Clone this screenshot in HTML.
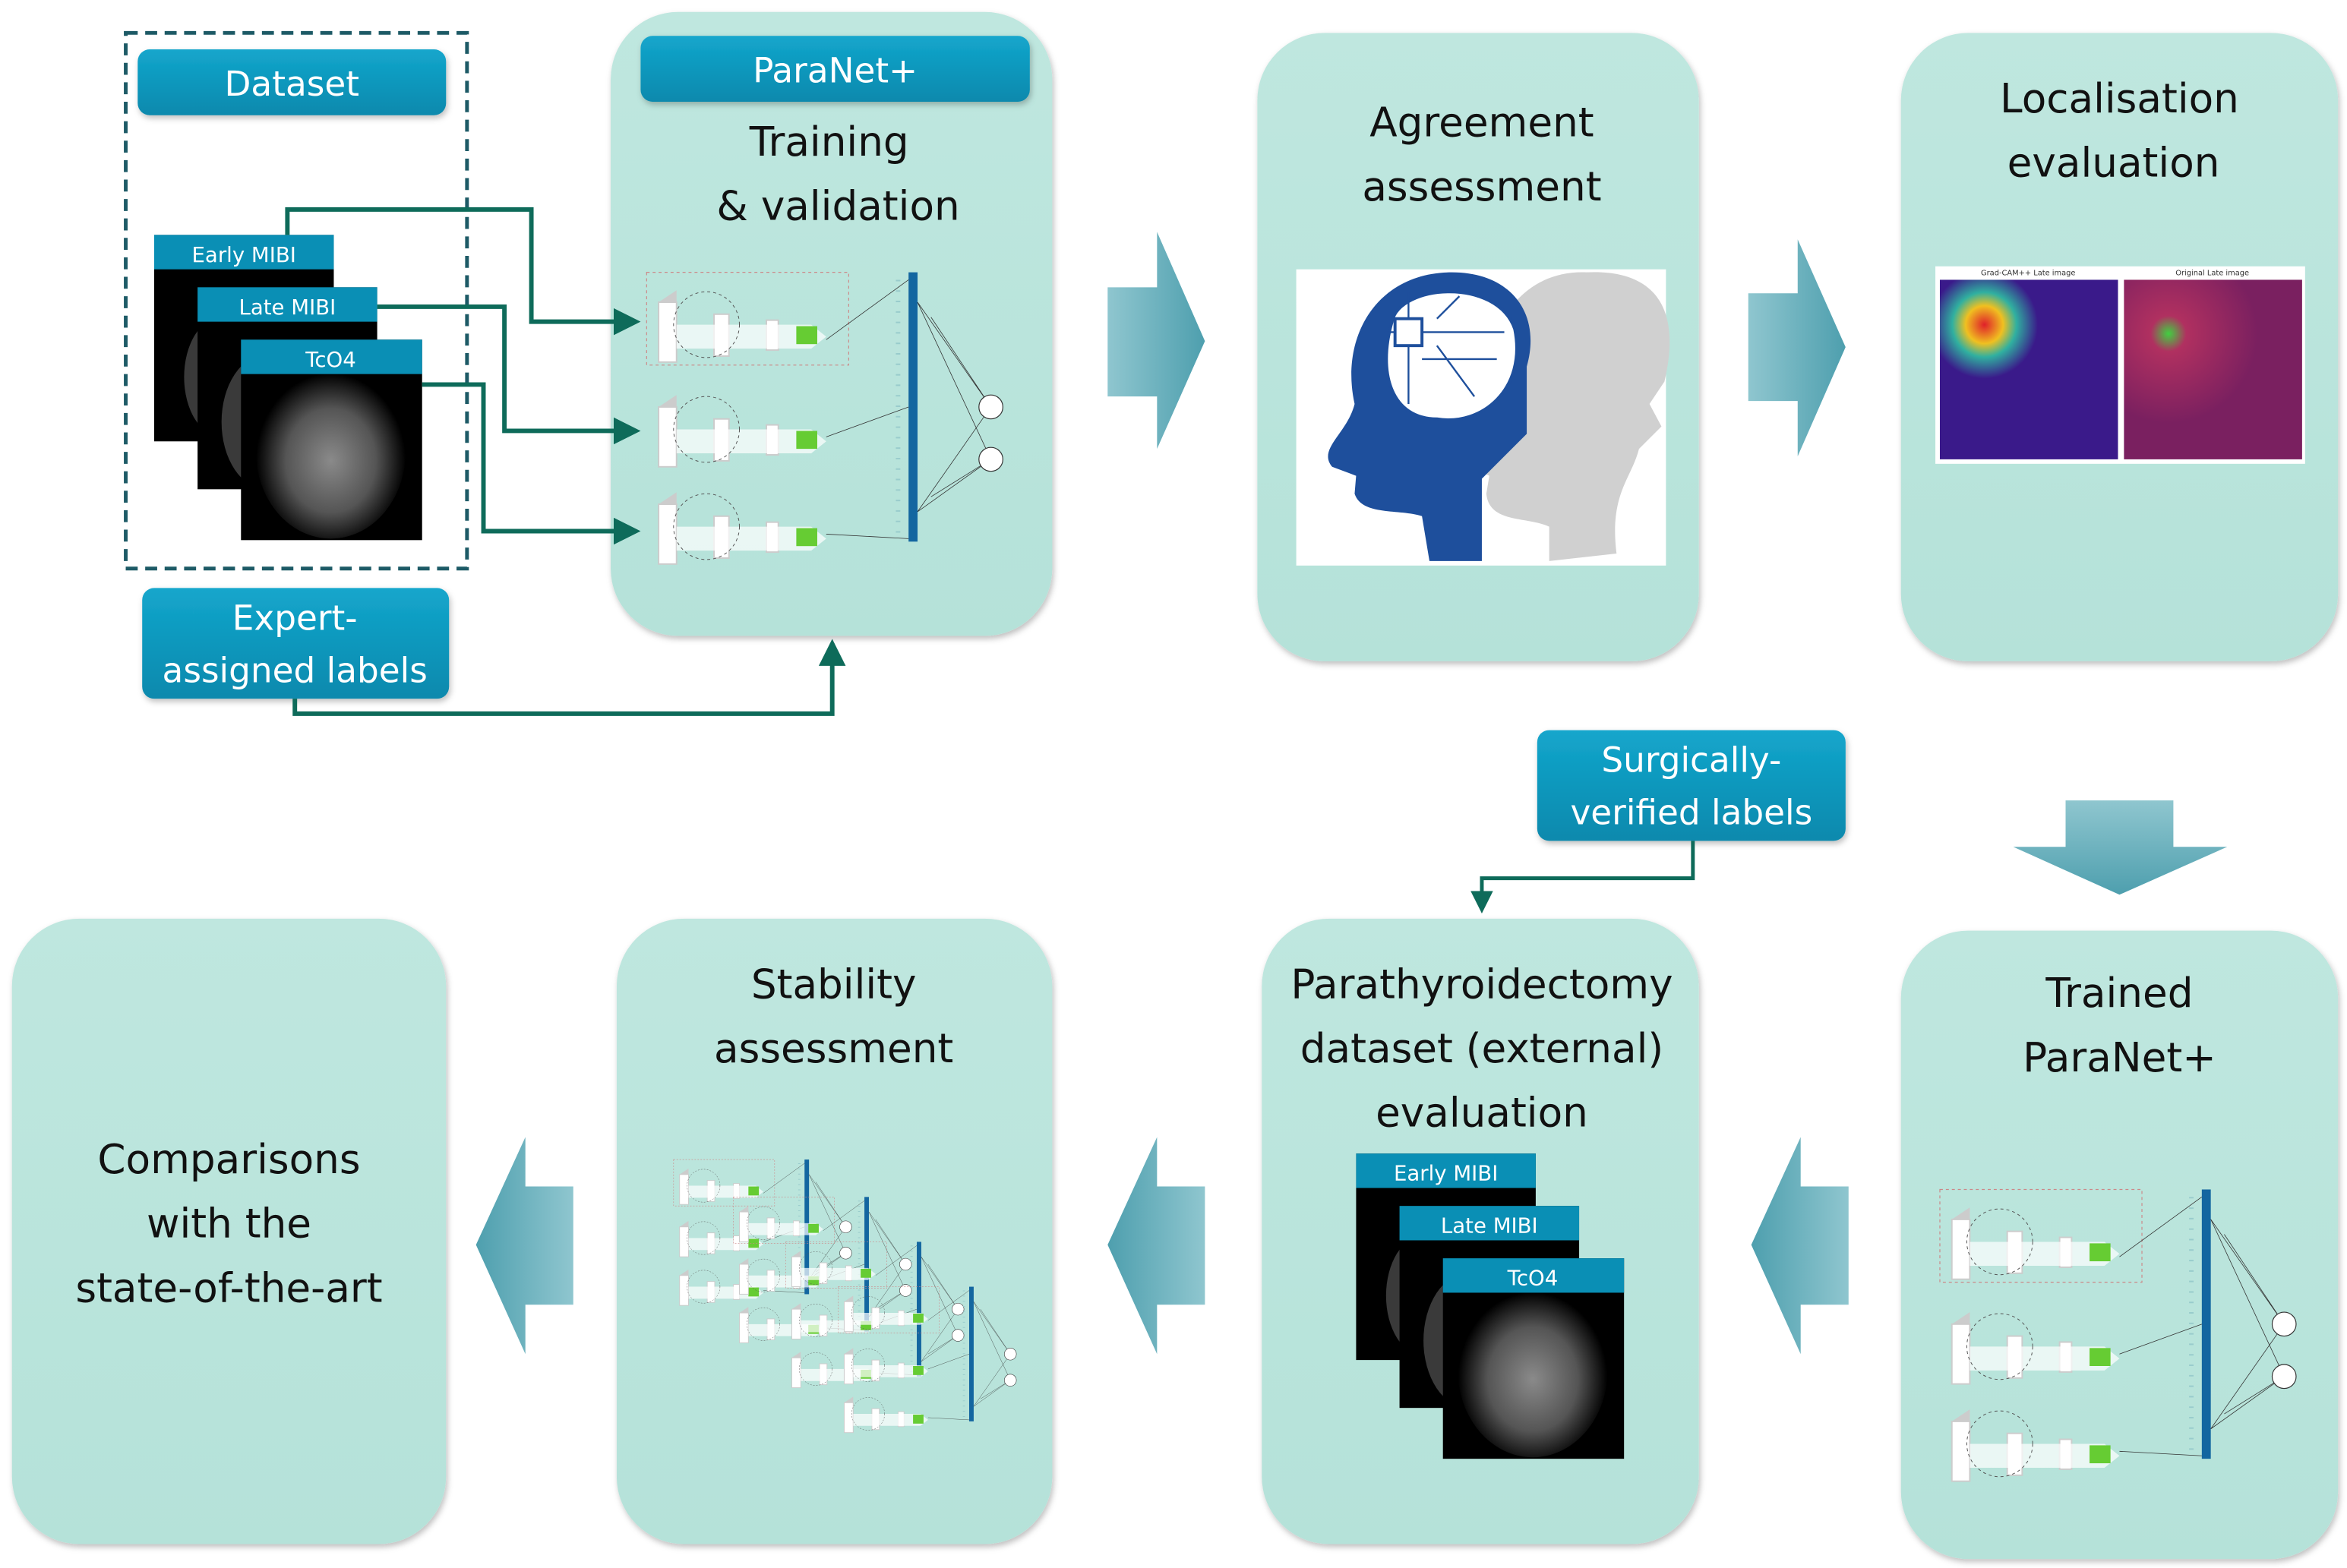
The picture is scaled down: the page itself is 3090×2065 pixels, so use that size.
<!DOCTYPE html>
<html><head><meta charset="utf-8"><style>
html,body{margin:0;padding:0;background:#fff}
svg{display:block}
text{font-family:"DejaVu Sans","Liberation Sans",sans-serif}
</style></head><body>
<svg width="3090" height="2065" viewBox="0 0 1568 1048" preserveAspectRatio="none" xmlns="http://www.w3.org/2000/svg">
<defs>
<linearGradient id="pill" x1="0" y1="0" x2="0" y2="1"><stop offset="0" stop-color="#14a6cc"/><stop offset="1" stop-color="#0789ad"/></linearGradient>
<linearGradient id="box" x1="0" y1="0" x2="0" y2="1"><stop offset="0" stop-color="#bfe7df"/><stop offset="1" stop-color="#b5e2d9"/></linearGradient>
<linearGradient id="arH" x1="0" y1="0" x2="1" y2="0"><stop offset="0" stop-color="#8fc6cf"/><stop offset="1" stop-color="#4e9fae"/></linearGradient>
<linearGradient id="arL" x1="1" y1="0" x2="0" y2="0"><stop offset="0" stop-color="#8fc6cf"/><stop offset="1" stop-color="#4e9fae"/></linearGradient>
<linearGradient id="arD" x1="0" y1="0" x2="0" y2="1"><stop offset="0" stop-color="#8fc6cf"/><stop offset="1" stop-color="#4e9fae"/></linearGradient>
<radialGradient id="scan" cx="0.5" cy="0.55" r="0.5"><stop offset="0" stop-color="#8a8a8a"/><stop offset="0.6" stop-color="#555"/><stop offset="1" stop-color="#000"/></radialGradient>
<radialGradient id="hot1" cx="0.25" cy="0.25" r="0.3"><stop offset="0" stop-color="#e0202a"/><stop offset="0.35" stop-color="#f0c020"/><stop offset="0.6" stop-color="#30b0a0"/><stop offset="1" stop-color="#3a1a8a"/></radialGradient>
<radialGradient id="hot2" cx="0.25" cy="0.3" r="0.5"><stop offset="0" stop-color="#40d040"/><stop offset="0.2" stop-color="#b03060"/><stop offset="1" stop-color="#7a2060"/></radialGradient>
<filter id="sh" x="-10%" y="-10%" width="120%" height="120%"><feDropShadow dx="1" dy="2" stdDeviation="2" flood-color="#000" flood-opacity="0.25"/></filter>
<marker id="ah" markerWidth="6" markerHeight="6" refX="5" refY="3" orient="auto" markerUnits="strokeWidth"><path d="M0,0 L6,3 L0,6 z" fill="#0e6b5a"/></marker>
<g id="net">
 <rect x="0" y="0" width="135" height="62" fill="none" stroke="#c88" stroke-dasharray="2,2" stroke-width="0.6"/>
 <g id="row"><path d="M8,20 l12,-8 v40 l-12,8z" fill="#ccc"/><rect x="8" y="20" width="12" height="40" fill="#fff" stroke="#ccc"/><rect x="45" y="28" width="10" height="28" fill="#fff" stroke="#ccc"/><rect x="80" y="32" width="8" height="20" fill="#fff" stroke="#ccc"/><path d="M20,35 H110 l10,8 l-10,8 H20z" fill="#fff" opacity="0.7"/><rect x="100" y="36" width="14" height="12" fill="#6c3"/><circle cx="40" cy="35" r="22" fill="none" stroke="#555" stroke-width="0.5" stroke-dasharray="2,2"/></g>
 <use href="#row" y="70"/><use href="#row" y="135"/>
 <rect x="175" y="0" width="6" height="180" fill="#1366a0"/>
 <path d="M168,5 V178" stroke="#9cc" stroke-width="3" stroke-dasharray="1,6"/>
 <path d="M120,45 L175,5 M120,110 L175,90 M120,175 L175,178 M181,20 L230,90 M181,160 L230,90 M181,20 L230,125 M181,160 L230,125 M190,30 L230,90 M190,150 L230,125" stroke="#333" stroke-width="0.4"/>
 <circle cx="230" cy="90" r="8" fill="#fff" stroke="#333" stroke-width="0.6"/><circle cx="230" cy="125" r="8" fill="#fff" stroke="#333" stroke-width="0.6"/>
</g>
<g id="stack">
 <rect x="0" y="0" width="120" height="138" fill="#000"/><ellipse cx="45" cy="95" rx="25" ry="40" fill="#3a3a3a"/><rect x="0" y="0" width="120" height="23" fill="#0a8fb5"/>
 <text x="60" y="18" font-size="14" fill="#fff" text-anchor="middle">Early MIBI</text>
 <rect x="29" y="35" width="120" height="135" fill="#000"/><ellipse cx="75" cy="125" rx="30" ry="45" fill="#3a3a3a"/><rect x="29" y="35" width="120" height="23" fill="#0a8fb5"/>
 <text x="89" y="53" font-size="14" fill="#fff" text-anchor="middle">Late MIBI</text>
 <rect x="58" y="70" width="121" height="134" fill="#000"/><ellipse cx="118" cy="145" rx="50" ry="58" fill="url(#scan)"/><rect x="58" y="70" width="121" height="23" fill="#0a8fb5"/>
 <text x="118" y="88" font-size="14" fill="#fff" text-anchor="middle">TcO4</text>
</g>
</defs>

<g filter="url(#sh)" fill="url(#box)">
<rect x="408" y="8" width="295" height="417" rx="45"/>
<rect x="840" y="22" width="295" height="420" rx="45"/>
<rect x="1270" y="22" width="292" height="420" rx="45"/>
<rect x="1270" y="622" width="292" height="420" rx="45"/>
<rect x="843" y="614" width="292" height="418" rx="45"/>
<rect x="412" y="614" width="291" height="418" rx="45"/>
<rect x="8" y="614" width="290" height="418" rx="45"/>
</g>

<rect x="84" y="22" width="228" height="358" fill="none" stroke="#1d5a66" stroke-width="2.5" stroke-dasharray="8,5"/>
<g filter="url(#sh)">
<rect x="92" y="33" width="206" height="44" rx="8" fill="url(#pill)"/>
<rect x="95" y="393" width="205" height="74" rx="8" fill="url(#pill)"/>
<rect x="428" y="24" width="260" height="44" rx="8" fill="url(#pill)"/>
<rect x="1027" y="488" width="206" height="74" rx="8" fill="url(#pill)"/>
</g>
<g fill="#fff" font-size="23" text-anchor="middle">
<text x="195" y="64">Dataset</text>
<text x="197" y="421">Expert-</text><text x="197" y="456">assigned labels</text>
<text x="558" y="55">ParaNet+</text>
<text x="1130" y="516">Surgically-</text><text x="1130" y="551">verified labels</text>
</g>
<use href="#stack" x="103" y="157"/>

<g font-size="27" fill="#111" text-anchor="middle">
<text x="554" y="104">Training</text><text x="560" y="147">&amp; validation</text>
<text x="990" y="91">Agreement</text><text x="990" y="134">assessment</text>
<text x="1416" y="75">Localisation</text><text x="1412" y="118">evaluation</text>
<text x="1416" y="673">Trained</text><text x="1416" y="716">ParaNet+</text>
<text x="990" y="667">Parathyroidectomy</text><text x="990" y="710">dataset (external)</text><text x="990" y="753">evaluation</text>
<text x="557" y="667">Stability</text><text x="557" y="710">assessment</text>
<text x="153" y="784">Comparisons</text><text x="153" y="827">with the</text><text x="153" y="870">state-of-the-art</text>
</g>

<use href="#net" x="432" y="182"/>
<use href="#net" x="1296" y="795"/>
<g transform="translate(450,775) scale(0.5)"><use href="#net"/></g>
<g transform="translate(490,800) scale(0.5)"><use href="#net"/></g>
<g transform="translate(525,830) scale(0.5)"><use href="#net"/></g>
<g transform="translate(560,860) scale(0.5)"><use href="#net"/></g>

<use href="#stack" x="906" y="771"/>

<rect x="866" y="180" width="247" height="198" fill="#fff"/>
<path d="M990,370 C985,330 1000,320 1005,300 L1020,285 L1012,270 L1022,255 C1035,200 1010,180 970,182 C920,180 898,230 905,270 C900,290 880,300 890,310 L905,318 L903,330 C905,350 930,345 945,352 L945,375 Z" fill="#d0d0d0" transform="translate(90,0)"/>
<path d="M955,375 L950,345 C935,340 910,345 905,330 L906,318 L890,312 C880,300 900,290 905,270 C895,225 920,182 970,182 C1010,182 1030,210 1020,245 L1020,290 L990,320 L990,375 Z" fill="#1e4f9c"/>
<path d="M930,215 C935,190 1000,185 1012,220 C1020,260 990,285 960,280 C930,280 920,250 930,215Z" fill="#fff" stroke="#1e4f9c" stroke-width="2"/>
<g stroke="#1e4f9c" stroke-width="1.2" fill="none"><path d="M941,213 V195 M950,222 H1005 M941,231 V270 M932,222 H925 M960,213 L975,198 M960,231 L985,265 M950,240 H1000"/></g>
<rect x="932" y="213" width="18" height="18" fill="#fff" stroke="#1e4f9c" stroke-width="2"/>

<rect x="1293" y="178" width="247" height="132" fill="#fff"/>
<rect x="1296" y="187" width="119" height="120" fill="url(#hot1)"/>
<rect x="1419" y="187" width="119" height="120" fill="url(#hot2)"/>
<text x="1355" y="184" font-size="5" text-anchor="middle" fill="#333">Grad-CAM++ Late image</text>
<text x="1478" y="184" font-size="5" text-anchor="middle" fill="#333">Original Late image</text>

<g fill="none" stroke="#0e6b5a" stroke-width="3">
<path d="M192,157 V140 H355 V215 H425" marker-end="url(#ah)"/>
<path d="M252,205 H337 V288 H425" marker-end="url(#ah)"/>
<path d="M282,257 H323 V355 H425" marker-end="url(#ah)"/>
<path d="M197,467 V477 H556 V430" marker-end="url(#ah)"/>
<path d="M1131,562 V587 H990 V608" stroke-width="2.5" marker-end="url(#ah)"/>
</g>

<path d="M740,192 H773 V155 L805,228 L773,300 V265 H740Z" fill="url(#arH)"/>
<path d="M1168,196 H1201 V160 L1233,232 L1201,305 V268 H1168Z" fill="url(#arH)"/>
<path d="M1380,535 H1452 V566 H1488 L1416,598 L1345,566 H1380Z" fill="url(#arD)"/>
<path d="M1235,793 H1203 V760 L1170,832 L1203,905 V872 H1235Z" fill="url(#arL)"/>
<path d="M805,793 H773 V760 L740,832 L773,905 V872 H805Z" fill="url(#arL)"/>
<path d="M383,793 H351 V760 L318,832 L351,905 V872 H383Z" fill="url(#arL)"/>
</svg>
</body></html>
